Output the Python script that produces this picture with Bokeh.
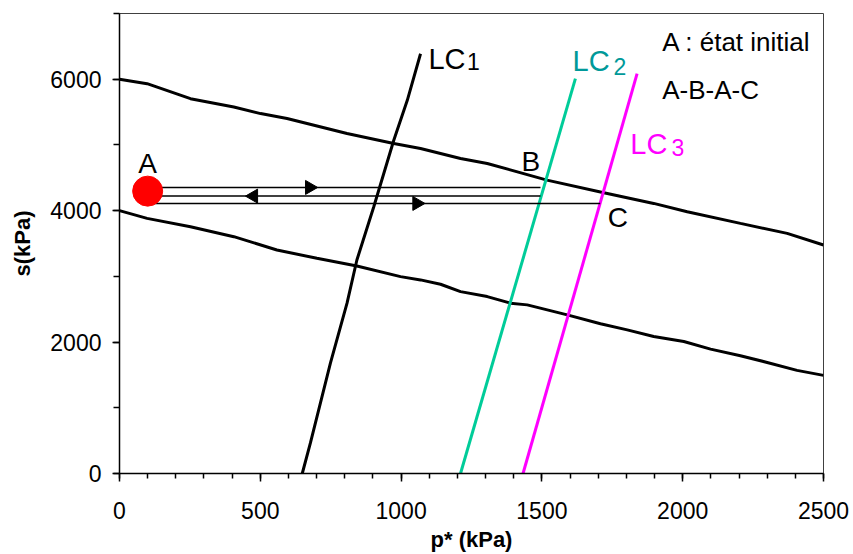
import math
from bokeh.plotting import figure
from bokeh.models import SingleIntervalTicker, Range1d
from bokeh.core.properties import value
from bokeh.embed import file_html
from bokeh.resources import INLINE

FONT = "Liberation Sans"

# Upper boundary curve
upper_x = [0, 98, 252, 406, 501, 595, 808, 974, 1069, 1211, 1306, 1518, 1720, 1897, 2016, 2205, 2371, 2500]
upper_y = [6000, 5932, 5704, 5577, 5477, 5401, 5173, 5021, 4945, 4793, 4718, 4464, 4272, 4110, 3983, 3806, 3654, 3477]

# Lower boundary curve
lower_x = [0, 98, 252, 406, 559, 701, 843, 998, 1069, 1140, 1211, 1306, 1388, 1448, 1590, 1708, 1803, 1897, 2004, 2099, 2205, 2300, 2406, 2500]
lower_y = [4000, 3882, 3756, 3604, 3401, 3275, 3158, 2996, 2946, 2880, 2768, 2692, 2592, 2566, 2414, 2278, 2186, 2085, 2009, 1893, 1792, 1690, 1569, 1493]

# Loading collapse curves
lc1_x = [649, 678, 749, 808, 843, 903, 974, 1022, 1069]
lc1_y = [0, 466, 1681, 2592, 3249, 4059, 5071, 5679, 6388]
lc2_x = [1211, 1619]
lc2_y = [0, 6008]
lc3_x = [1433, 1838]
lc3_y = [0, 6084]

# Stress paths A-B, B-A, A-C
path1_x = [100, 1495]
path1_y = [4353, 4353]
path2_x = [100, 1495]
path2_y = [4221, 4221]
path3_x = [100, 1707]
path3_y = [4110, 4110]

# Arrow heads on paths
arrow_x = [675, 476, 1056]
arrow_y = [4353, 4221, 4110]
arrow_angle = [-math.pi / 2, math.pi / 2, -math.pi / 2]

# Initial state A
point_x = [100]
point_y = [4297]

# Labels
pt_label_text = ["A", "B", "C"]
pt_label_x = [100, 1461, 1770]
pt_label_y = [4720, 4755, 3900]

lc_text = ["LC", "LC", "LC"]
lc_x = [1097, 1609, 1814]
lc_y = [6310, 6284, 5019]
lc_sub_text = ["1", "2", "3"]
lc_sub_x = [1234, 1754, 1960]
lc_sub_y = [6274, 6198, 4968]
lc_colors = ["black", "#009999", "#FF00FF"]

note_text = ["A : état initial", "A-B-A-C"]
note_x = [1927, 1927]
note_y = [6562, 5839]

p = figure(width=850, height=554, output_backend="svg", toolbar_location=None,
           x_range=Range1d(0, 2500), y_range=Range1d(0, 7000),
           min_border_left=119, min_border_top=13, min_border_right=27, min_border_bottom=81)
p.xgrid.visible = False
p.ygrid.visible = False
p.outline_line_color = "#404040"
p.outline_line_width = 1

p.xaxis.ticker = SingleIntervalTicker(interval=500, num_minor_ticks=5)
p.yaxis.ticker = SingleIntervalTicker(interval=2000, num_minor_ticks=2)
for ax in (p.xaxis, p.yaxis):
    ax.axis_line_color = "black"
    ax.axis_line_width = 1.5
    ax.major_tick_line_color = "black"
    ax.minor_tick_line_color = "black"
    ax.major_tick_line_width = 1.5
    ax.minor_tick_line_width = 1.5
    ax.major_tick_in = 0
    ax.minor_tick_in = 0
    ax.major_label_text_font = FONT
    ax.major_label_text_font_size = "23px"
    ax.major_label_text_color = "black"
    ax.axis_label_text_font = FONT
    ax.axis_label_text_font_size = "22px"
    ax.axis_label_text_font_style = "bold"
    ax.axis_label_text_color = "black"
p.xaxis.major_tick_out = 8
p.xaxis.minor_tick_out = 5
p.yaxis.major_tick_out = 7
p.yaxis.minor_tick_out = 6
p.xaxis.major_label_standoff = 20
p.yaxis.major_label_standoff = 11
p.xaxis.axis_label = "p* (kPa)"
p.yaxis.axis_label = "s(kPa)"
p.xaxis.axis_label_standoff = 5
p.yaxis.axis_label_standoff = 12

p.line(upper_x, upper_y, line_color="black", line_width=3)
p.line(lower_x, lower_y, line_color="black", line_width=3)
p.line(lc1_x, lc1_y, line_color="black", line_width=3)
p.line(lc2_x, lc2_y, line_color="#00CC99", line_width=3)
p.line(lc3_x, lc3_y, line_color="#FF00FF", line_width=3)

for px_, py_ in ((path1_x, path1_y), (path2_x, path2_y), (path3_x, path3_y)):
    p.line(px_, py_, line_color="black", line_width=1.5)

p.scatter(arrow_x, arrow_y, marker="triangle", size=14, angle=arrow_angle,
          fill_color="black", line_color="black")

p.scatter(point_x, point_y, marker="circle", size=30, fill_color="#FF0000", line_color="#FF0000")

p.text(pt_label_x, pt_label_y, text=pt_label_text, text_font=value(FONT), text_font_size="28px",
       text_align="center", text_baseline="alphabetic", text_color="black")
p.text(lc_x, lc_y, text=lc_text, text_font=value(FONT), text_font_size="29px",
       text_align="left", text_baseline="alphabetic", text_color=lc_colors)
p.text(lc_sub_x, lc_sub_y, text=lc_sub_text, text_font=value(FONT), text_font_size="23px",
       text_align="left", text_baseline="alphabetic", text_color=lc_colors)
p.text(note_x, note_y, text=note_text, text_font=value(FONT), text_font_size="26px",
       text_align="left", text_baseline="alphabetic", text_color="black")

open("out.html", "w").write(file_html(p, INLINE))
